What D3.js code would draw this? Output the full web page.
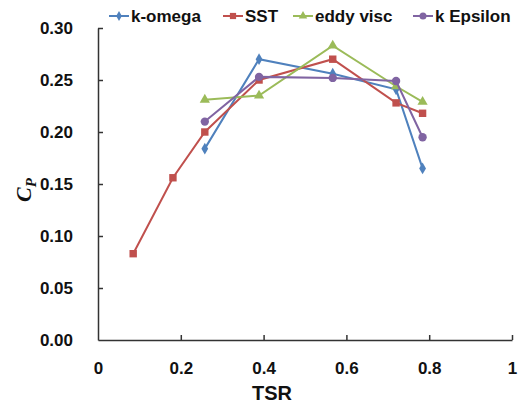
<!DOCTYPE html>
<html><head><meta charset="utf-8">
<script src="https://cdn.jsdelivr.net/npm/d3@7"></script>
<style>body{margin:0;background:#fff}svg{display:block}</style>
</head><body>
<script>
const seriesNames = ["k-omega", "SST", "eddy visc", "k Epsilon"];
const colors = ["#4F81BD", "#C0504D", "#9BBB59", "#8064A2"];
const kOmegaX = [0.258, 0.389, 0.567, 0.72, 0.784];
const kOmegaY = [0.184, 0.270, 0.256, 0.241, 0.165];
const sstX = [0.085, 0.181, 0.258, 0.389, 0.567, 0.72, 0.784];
const sstY = [0.083, 0.156, 0.200, 0.250, 0.270, 0.228, 0.218];
const eddyX = [0.258, 0.389, 0.567, 0.72, 0.784];
const eddyY = [0.231, 0.235, 0.283, 0.244, 0.229];
const kEpsX = [0.258, 0.389, 0.567, 0.72, 0.784];
const kEpsY = [0.210, 0.253, 0.252, 0.249, 0.195];
const xTicks = [0, 0.2, 0.4, 0.6, 0.8, 1];
const yTicks = [0, 0.05, 0.10, 0.15, 0.20, 0.25, 0.30];

const W = 529, H = 406;
const svg = d3.select("body").append("svg").attr("width", W).attr("height", H);
const x = d3.scaleLinear().domain([0, 1]).range([98, 512]);
const y = d3.scaleLinear().domain([0, 0.30]).range([340, 28]);
const font = "'Liberation Sans', Arial, sans-serif";

const xAxis = svg.append("g").attr("transform", `translate(0,${y(0)})`)
  .call(d3.axisBottom(x).tickValues(xTicks).tickSizeInner(-5).tickSizeOuter(0).tickPadding(22)
    .tickFormat(d => d === 0 || d === 1 ? d3.format("d")(d) : d3.format(".1f")(d)));
const yAxis = svg.append("g").attr("transform", `translate(${x(0)},0)`)
  .call(d3.axisLeft(y).tickValues(yTicks).tickSizeInner(-5).tickSizeOuter(0).tickPadding(25)
    .tickFormat(d3.format(".2f")));
[xAxis, yAxis].forEach(g => {
  g.select(".domain").attr("stroke", "#333").attr("stroke-width", 1.5);
  g.selectAll(".tick line").attr("stroke", "#333").attr("stroke-width", 1.5);
  g.selectAll(".tick text").attr("font-family", font).attr("font-weight", "bold")
    .attr("font-size", 17).attr("fill", "#111");
});
xAxis.selectAll(".tick").filter(d => d === 0).select("line").remove();
yAxis.selectAll(".tick").filter(d => d === 0).select("line").remove();

svg.append("text").attr("x", 272).attr("y", 400).attr("text-anchor", "middle")
  .attr("font-family", font).attr("font-weight", "bold").attr("font-size", 20).attr("fill", "#111").text("TSR");
const yl = svg.append("text").attr("transform", "translate(31,190) rotate(-90)").attr("text-anchor", "middle")
  .attr("font-family", "'Liberation Serif', 'Times New Roman', serif").attr("font-weight", "bold")
  .attr("font-style", "italic").attr("font-size", 22).attr("fill", "#111");
yl.append("tspan").text("C");
yl.append("tspan").attr("font-size", 15).attr("dy", 5).text("P");

const series = [
  {xs: kOmegaX, ys: kOmegaY, sym: d3.symbolDiamond, size: 40},
  {xs: sstX, ys: sstY, sym: d3.symbolSquare, size: 55},
  {xs: eddyX, ys: eddyY, sym: d3.symbolTriangle, size: 45},
  {xs: kEpsX, ys: kEpsY, sym: d3.symbolCircle, size: 55}
];
const line = d3.line().x(d => x(d[0])).y(d => y(d[1]));
series.forEach((s, i) => {
  const pts = s.xs.map((v, j) => [v, s.ys[j]]);
  svg.append("path").datum(pts).attr("d", line).attr("fill", "none")
    .attr("stroke", colors[i]).attr("stroke-width", 2);
  svg.append("g").selectAll("path").data(pts).join("path")
    .attr("d", d3.symbol().type(s.sym).size(s.size))
    .attr("transform", d => `translate(${x(d[0])},${y(d[1])})`)
    .attr("fill", colors[i]);
});

const legX = [109, 223, 293, 413];
seriesNames.forEach((n, i) => {
  const g = svg.append("g").attr("transform", `translate(${legX[i]},16)`);
  g.append("line").attr("x1", 0).attr("x2", 20).attr("stroke", colors[i]).attr("stroke-width", 2);
  g.append("path").attr("d", d3.symbol().type(series[i].sym).size(series[i].size * 0.7))
    .attr("transform", "translate(10,0)").attr("fill", colors[i]);
  g.append("text").attr("x", 22).attr("y", 6).attr("font-family", font).attr("font-weight", "bold")
    .attr("font-size", 17).attr("fill", "#111").text(n);
});
</script>
</body></html>
